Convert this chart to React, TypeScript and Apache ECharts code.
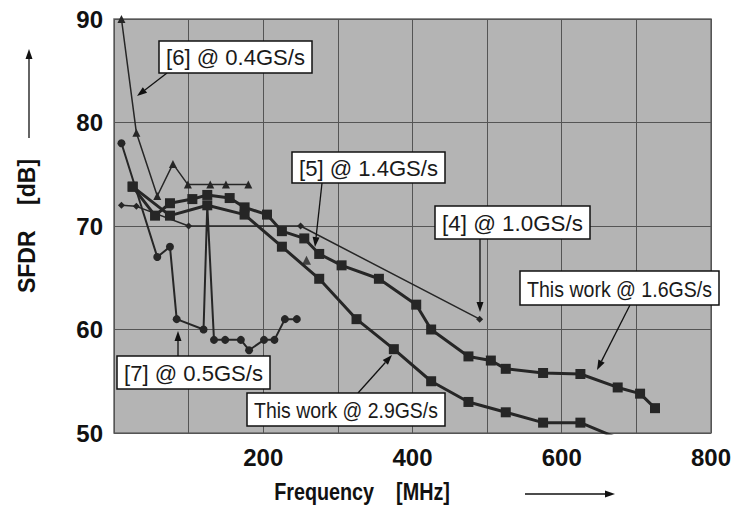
import React, { useEffect, useRef } from "react";
import * as echarts from "echarts";

// ---- data (frequency in MHz, SFDR in dB) ----
const freqTW16 = [25, 55, 75, 105, 125, 155, 175, 205, 225, 255, 275, 305, 355, 405, 425, 475, 505, 525, 575, 625, 675, 705, 725];
const sfdrTW16 = [73.8, 71.0, 72.2, 72.6, 73.0, 72.7, 71.8, 71.1, 69.5, 68.8, 67.3, 66.2, 64.9, 62.4, 60.0, 57.4, 57.0, 56.2, 55.8, 55.7, 54.4, 53.8, 52.4];

const freqTW29 = [25, 75, 125, 175, 225, 275, 325, 375, 425, 475, 525, 575, 625, 675];
const sfdrTW29 = [73.8, 71.0, 72.0, 71.1, 68.0, 64.9, 61.0, 58.1, 55.0, 53.0, 52.0, 51.0, 51.0, 49.5];

const freqRef4 = [10, 30, 100, 250, 490];
const sfdrRef4 = [72, 71.9, 70, 70, 61];

const freqRef5 = [258];
const sfdrRef5 = [66.7];

const freqRef6 = [10, 30, 58, 79, 99, 129, 150, 180];
const sfdrRef6 = [90, 79, 72.9, 76, 74, 74, 74, 74];

const freqRef7 = [10, 58, 75, 84, 120, 125, 134, 149, 170, 181, 201, 215, 229, 245];
const sfdrRef7 = [78, 67, 68, 61, 60, 72, 59, 59, 59, 58, 59, 59, 61, 61];

const xTickLabels = ["200", "400", "600", "800"];
const yTickLabels = ["50", "60", "70", "80", "90"];

const annotations = [
  { text: "[6] @ 0.4GS/s", box: [159, 41, 153, 32], arrow: [167, 73, 137, 96] },
  { text: "[5] @ 1.4GS/s", box: [292, 152, 153, 31], arrow: [322, 183, 315, 247] },
  { text: "[4] @ 1.0GS/s", box: [435, 206, 155, 33], arrow: [480, 239, 480, 312] },
  { text: "This work @ 1.6GS/s", box: [520, 271, 199, 34], arrow: [630, 305, 597, 370] },
  { text: "This work @ 2.9GS/s", box: [247, 393, 198, 33], arrow: [358, 393, 392, 355] },
  { text: "[7] @ 0.5GS/s", box: [117, 356, 153, 33], arrow: [178, 356, 178, 331] },
];

const pairs = (xs: number[], ys: number[]) => xs.map((x, i) => [x, ys[i]]);

const BOLD_FONT = "'Liberation Sans Narrow', 'Liberation Sans', Arial, sans-serif";
const TEXT_FONT = "'Liberation Sans', Arial, sans-serif";
const INK = "#262626";

function measure(text: string, font: string): number {
  const c = document.createElement("canvas").getContext("2d");
  if (!c) return text.length * 10;
  c.font = font;
  return c.measureText(text).width;
}

function arrowEls(x1: number, y1: number, x2: number, y2: number, L = 10, W = 7, lw = 1.3) {
  const dx = x2 - x1, dy = y2 - y1;
  const len = Math.hypot(dx, dy);
  const ux = dx / len, uy = dy / len;
  const bx = x2 - ux * L, by = y2 - uy * L;
  const nx = -uy, ny = ux;
  return [
    { type: "line", z: 100, shape: { x1, y1, x2: bx, y2: by }, style: { stroke: "#111", lineWidth: lw } },
    {
      type: "polygon", z: 100,
      shape: { points: [[x2, y2], [bx + nx * W / 2, by + ny * W / 2], [bx - nx * W / 2, by - ny * W / 2]] },
      style: { fill: "#111" },
    },
  ];
}

export default function App() {
  const ref = useRef<HTMLDivElement>(null);
  useEffect(() => {
    document.body.style.margin = "0";
    const chart = echarts.init(ref.current!, null, { renderer: "svg" });
    const graphics: any[] = [];
    const boxFont = `22px ${TEXT_FONT}`;
    annotations.forEach((a) => {
      const [x, y, w, h] = a.box;
      const tw = measure(a.text, boxFont);
      const sx = Math.min(1.05, (w - 14) / tw);
      graphics.push(...arrowEls(a.arrow[0], a.arrow[1], a.arrow[2], a.arrow[3]));
      graphics.push({ type: "rect", z: 101, shape: { x, y, width: w, height: h }, style: { fill: "#fff", stroke: "#111", lineWidth: 1.5 } });
      graphics.push({
        type: "text", z: 102, x: x + w / 2, y: y + h / 2 + 1, scaleX: sx,
        style: { text: a.text, font: boxFont, fill: "#1a1a1a", align: "center", verticalAlign: "middle" },
      });
    });
    // axis title arrows
    graphics.push(...arrowEls(29, 138, 29, 49, 10, 7, 1.3));
    graphics.push(...arrowEls(525, 494, 615, 494, 10, 7, 1.3));
    graphics.push({
      type: "text", z: 100, x: 362, y: 492, scaleX: 0.86,
      style: { text: "Frequency    [MHz]", font: `bold 23px ${BOLD_FONT}`, fill: "#111", align: "center", verticalAlign: "middle" },
    });

    const labelStyle = { fontSize: 24, fontWeight: "bold", color: "#111", fontFamily: BOLD_FONT };
    const option: any = {
      animation: false,
      backgroundColor: "#ffffff",
      grid: { left: 114, top: 19, right: 12, bottom: 93, show: true, backgroundColor: "#b4b4b4", borderColor: "#6a6a6a", borderWidth: 1.5 },
      xAxis: {
        type: "value", min: 0, max: 800, interval: 100,
        axisLine: { show: false }, axisTick: { show: false },
        splitLine: { show: true, lineStyle: { color: "#555", width: 1 } },
        axisLabel: {
          ...labelStyle, margin: 12,
          formatter: (v: number) => (xTickLabels.includes(String(v)) ? String(v) : ""),
        },
      },
      yAxis: {
        type: "value", min: 50, max: 90, interval: 10,
        axisLine: { show: false }, axisTick: { show: false },
        splitLine: { show: true, lineStyle: { color: "#555", width: 1 } },
        axisLabel: { ...labelStyle, margin: 11, formatter: (v: number) => (yTickLabels.includes(String(v)) ? String(v) : "") },
        name: "SFDR    [dB]", nameLocation: "middle", nameRotate: 90, nameGap: 76,
        nameTextStyle: { fontSize: 23, fontWeight: "bold", color: "#111", fontFamily: BOLD_FONT },
      },
      series: [
        { name: "[4] @ 1.0GS/s", type: "line", data: pairs(freqRef4, sfdrRef4), symbol: "diamond", symbolSize: 7, lineStyle: { color: INK, width: 1.5 }, itemStyle: { color: INK } },
        { name: "[6] @ 0.4GS/s", type: "line", clip: false, data: pairs(freqRef6, sfdrRef6), symbol: "triangle", symbolSize: 8, lineStyle: { color: INK, width: 1.5 }, itemStyle: { color: INK } },
        { name: "[7] @ 0.5GS/s", type: "line", data: pairs(freqRef7, sfdrRef7), symbol: "circle", symbolSize: 8, lineStyle: { color: INK, width: 2 }, itemStyle: { color: INK } },
        { name: "[5] @ 1.4GS/s", type: "scatter", data: pairs(freqRef5, sfdrRef5), symbol: "triangle", symbolSize: 9, itemStyle: { color: INK } },
        { name: "This work @ 2.9GS/s", type: "line", data: pairs(freqTW29, sfdrTW29), symbol: "rect", symbolSize: 10, lineStyle: { color: INK, width: 3 }, itemStyle: { color: INK } },
        { name: "This work @ 1.6GS/s", type: "line", data: pairs(freqTW16, sfdrTW16), symbol: "rect", symbolSize: 10, lineStyle: { color: INK, width: 3 }, itemStyle: { color: INK } },
      ],
      graphic: graphics,
    };
    chart.setOption(option);
    return () => chart.dispose();
  }, []);
  return <div ref={ref} style={{ position: "fixed", left: 0, top: 0, width: 734, height: 526 }} />;
}
